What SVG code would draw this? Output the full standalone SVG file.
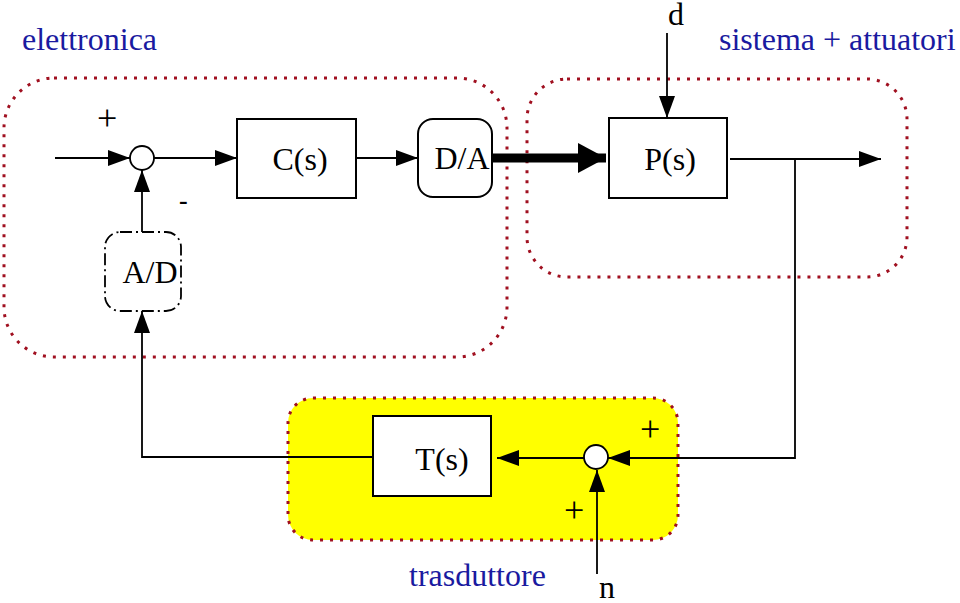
<svg xmlns="http://www.w3.org/2000/svg" width="960" height="603" viewBox="0 0 960 603" font-family="'Liberation Serif', 'DejaVu Serif', serif">
<defs>
<style>
text{font-family:'Liberation Serif','DejaVu Serif',serif;fill:#000}
.lbl{font-size:32px}
.grp{font-size:32px;fill:#1a1aa0}
.sign{font-size:36px}
.box{fill:#fff;stroke:#000;stroke-width:2}
.region{fill:none;stroke:#a01020;stroke-width:3;stroke-dasharray:3 7}
.wire{fill:none;stroke:#000;stroke-width:1.8}
.arr{marker-end:url(#ah)}
</style>
<marker id="ah" markerUnits="userSpaceOnUse" markerWidth="24" markerHeight="18" refX="22" refY="8" orient="auto">
<path d="M0,0 L22,8 L0,16 z" fill="#000"/>
</marker>
<marker id="ahbig" markerUnits="userSpaceOnUse" markerWidth="30" markerHeight="32" refX="28" refY="15" orient="auto">
<path d="M0,0 L28,15 L0,30 z" fill="#000"/>
</marker>
</defs>

<g id="region-elettronica">
<rect class="region" x="4" y="78" width="503" height="279" rx="50"/>
<text class="grp" x="22" y="50">elettronica</text>
</g>
<g id="region-sistema">
<rect class="region" x="527" y="79" width="380" height="198" rx="40"/>
<text class="grp" x="719" y="50">sistema + attuatori</text>
</g>
<g id="region-trasduttore">
<rect x="288" y="398" width="390" height="142" rx="25" fill="#ffff00" stroke="#a01020" stroke-width="3" stroke-dasharray="3 7"/>
<text class="grp" x="409" y="586">trasduttore</text>
</g>

<g id="connectors">
<line class="wire arr" x1="55" y1="158" x2="130" y2="158"/>
<line class="wire arr" x1="154" y1="158" x2="237" y2="158"/>
<line class="wire arr" x1="356" y1="158" x2="418" y2="158"/>
<line fill="none" stroke="#000" stroke-width="9" marker-end="url(#ahbig)" x1="492" y1="158" x2="606" y2="158"/>
<line class="wire arr" x1="730" y1="159" x2="881" y2="159"/>
<line class="wire arr" x1="667" y1="33" x2="667" y2="118"/>
<polyline class="wire arr" points="795,159 795,458 608,458"/>
<line class="wire arr" x1="584" y1="458" x2="497" y2="458"/>
<line class="wire arr" x1="597" y1="574" x2="597" y2="470"/>
<polyline class="wire arr" points="373,457 142,457 142,311"/>
<line class="wire arr" x1="142" y1="232" x2="142" y2="170"/>
</g>

<g id="sum1">
<circle cx="142" cy="158" r="12" fill="#fff" stroke="#000" stroke-width="1.8"/>
<text class="sign" x="97" y="130">+</text>
<text x="179" y="209" font-size="26" font-weight="bold">-</text>
</g>
<g id="C">
<rect class="box" x="237" y="119" width="119" height="79"/>
<text class="lbl" x="300" y="170" text-anchor="middle">C(s)</text>
</g>
<g id="DA">
<rect class="box" x="418" y="119" width="74" height="78" rx="15"/>
<text class="lbl" x="462" y="169" text-anchor="middle">D/A</text>
</g>
<g id="P">
<rect class="box" x="609" y="118" width="118" height="80"/>
<text class="lbl" x="670" y="170" text-anchor="middle">P(s)</text>
</g>
<g id="d">
<text class="lbl" x="676" y="25" text-anchor="middle">d</text>
</g>
<g id="AD">
<rect x="105" y="232" width="76" height="79" rx="15" fill="#fff" stroke="#000" stroke-width="1.8" stroke-dasharray="12 4 2 4"/>
<text class="lbl" x="150" y="283" text-anchor="middle">A/D</text>
</g>
<g id="T">
<rect class="box" x="373" y="416" width="118" height="80"/>
<text class="lbl" x="442" y="470" text-anchor="middle">T(s)</text>
</g>
<g id="sum2">
<circle cx="596" cy="457" r="12" fill="#fff" stroke="#000" stroke-width="1.8"/>
<text class="sign" x="640" y="441">+</text>
<text class="sign" x="564" y="522">+</text>
</g>
<g id="n">
<text class="lbl" x="607" y="598" text-anchor="middle">n</text>
</g>
</svg>
